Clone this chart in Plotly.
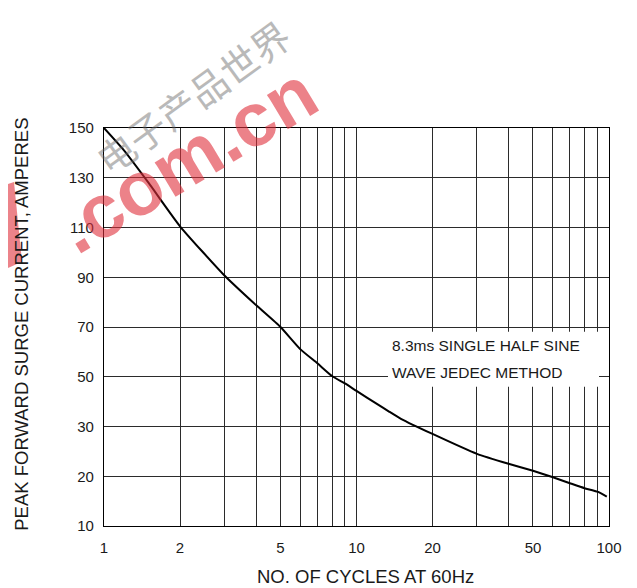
import numpy as np
import plotly.graph_objects as go

# ---- data ----
cycles = [1, 1.2, 1.5, 2, 3, 4, 5, 6, 7, 8, 9, 10, 12, 13.5, 15, 20, 30, 40, 50, 60, 70, 80, 90, 98]
amperes = [150, 141, 128, 110.5, 90.7, 78.8, 70, 61.0, 55.4, 50.3, 47.3, 44.3, 39.2, 35.9, 33.1,
           28.5, 24.5, 22.5, 21.1, 19.8, 18.6, 17.6, 16.9, 15.9]
y_tick_values = [10, 20, 30, 50, 70, 90, 110, 130, 150]
x_grid_values = [1, 2, 3, 4, 5, 6, 7, 8, 9, 10, 20, 30, 40, 50, 60, 70, 80, 90, 100]
x_tick_labels = ["1", "2", "", "", "5", "", "", "", "", "10", "20", "", "", "50", "", "", "", "", "100"]

# The chart's vertical scale places its labels at equal spacing
y_index = list(range(len(y_tick_values)))
y_pos = np.interp(amperes, y_tick_values, y_index)

FONT = "Liberation Sans, Arial, Helvetica, sans-serif"
GRID = "#2b2b2b"
TXT = "#1a1a1a"

fig = go.Figure()
fig.add_trace(go.Scatter(
    x=cycles, y=y_pos, mode="lines",
    line=dict(color="black", width=2, shape="spline", smoothing=0.5),
    showlegend=False, hoverinfo="skip",
))

fig.update_layout(
    width=629, height=580,
    margin=dict(l=96, r=28, t=120, b=61.5),
    paper_bgcolor="white", plot_bgcolor="white",
    font=dict(family=FONT, color=TXT),
    xaxis=dict(
        type="log", range=[0, 2],
        tickvals=x_grid_values, ticktext=x_tick_labels,
        showgrid=True, gridcolor=GRID, gridwidth=1.2,
        showline=True, linecolor="black", linewidth=1.2, mirror=True,
        ticks="", tickfont=dict(size=15, family=FONT, color=TXT),
        ticklabelstandoff=8, zeroline=False,
    ),
    yaxis=dict(
        range=[0, 8],
        tickvals=y_index, ticktext=[str(v) for v in y_tick_values],
        showgrid=True, gridcolor=GRID, gridwidth=1.2,
        showline=True, linecolor="black", linewidth=1.2, mirror=True,
        ticks="", tickfont=dict(size=15, family=FONT, color=TXT),
        ticklabelstandoff=6, zeroline=False,
    ),
)

def px_x(px):
    return (px - 104) / 505.0

def px_y(py):
    return (526.5 - py) / 398.5

# white box behind the note
fig.add_shape(type="rect", xref="paper", yref="paper",
              x0=px_x(388), x1=px_x(599), y0=px_y(387), y1=px_y(332),
              fillcolor="white", line=dict(width=0), layer="above")

fig.add_annotation(text="8.3ms SINGLE HALF SINE", xref="paper", yref="paper",
                   x=px_x(390), y=px_y(346), xanchor="left", yanchor="middle",
                   showarrow=False, font=dict(size=15.5, family=FONT, color=TXT))
fig.add_annotation(text="WAVE JEDEC METHOD", xref="paper", yref="paper",
                   x=px_x(390), y=px_y(372.5), xanchor="left", yanchor="middle",
                   showarrow=False, font=dict(size=15.5, family=FONT, color=TXT))

# axis titles
fig.add_annotation(text="PEAK FORWARD SURGE CURRENT, AMPERES", xref="paper", yref="paper",
                   x=px_x(22), y=px_y(325), xanchor="center", yanchor="middle",
                   textangle=-90, showarrow=False,
                   font=dict(size=18.5, family=FONT, color=TXT))
fig.add_annotation(text="NO. OF CYCLES AT 60Hz", xref="paper", yref="paper",
                   x=px_x(365), y=px_y(577), xanchor="center", yanchor="middle",
                   showarrow=False, font=dict(size=18.5, family=FONT, color=TXT))

# watermark
fig.add_annotation(text="电子产品世界", xref="paper", yref="paper",
                   x=px_x(192), y=px_y(96), xanchor="center", yanchor="middle",
                   textangle=-36, showarrow=False, opacity=0.45,
                   font=dict(size=38, family="Noto Sans CJK SC", color="#666666"))
fig.add_annotation(text="<b>.com.cn</b>", xref="paper", yref="paper",
                   x=px_x(186), y=px_y(160), xanchor="center", yanchor="middle",
                   textangle=-31, showarrow=False, opacity=0.6,
                   font=dict(size=76, family=FONT, color="#e0303c"))
fig.add_shape(type="path", xref="paper", yref="paper",
              path="M {} {} L {} {} L {} {} L {} {} Z".format(
                  px_x(-8), px_y(190), px_x(14), px_y(182),
                  px_x(22), px_y(262), px_x(-8), px_y(275)),
              fillcolor="rgba(224,48,60,0.6)", line=dict(width=0), layer="above")

fig.write_html("out.html")
